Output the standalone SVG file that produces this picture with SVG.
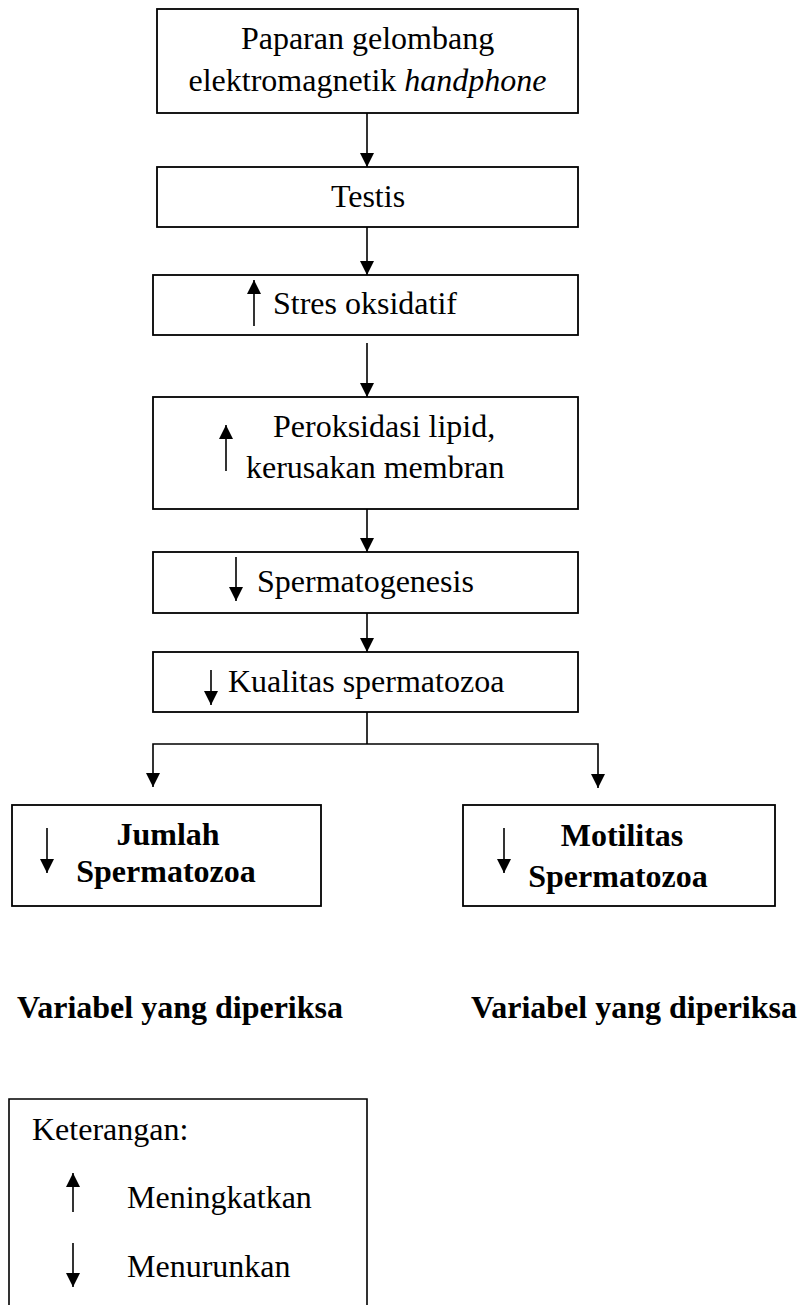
<svg xmlns="http://www.w3.org/2000/svg" width="803" height="1305" viewBox="0 0 803 1305">
<style>
.box{fill:#fff;stroke:#000;stroke-width:1.8}
.ln{fill:none;stroke:#000;stroke-width:1.6}
.t{font-family:"Liberation Serif","Times New Roman",serif;font-size:32px;fill:#000}
.b{font-weight:bold}
.c{text-anchor:middle}
</style>
<defs>
<marker id="ah" markerUnits="userSpaceOnUse" markerWidth="15" markerHeight="15" refX="14" refY="7" orient="auto">
<path d="M0,0 L14,7 L0,14 z" fill="#000"/>
</marker>
</defs>
<rect width="803" height="1305" fill="#fff"/>
<g id="connectors">
<line class="ln" x1="367" y1="113" x2="367" y2="167" marker-end="url(#ah)"/>
<line class="ln" x1="367" y1="227" x2="367" y2="275" marker-end="url(#ah)"/>
<line class="ln" x1="367" y1="343" x2="367" y2="397" marker-end="url(#ah)"/>
<line class="ln" x1="367" y1="509" x2="367" y2="552" marker-end="url(#ah)"/>
<line class="ln" x1="367" y1="613" x2="367" y2="652" marker-end="url(#ah)"/>
<polyline class="ln" points="367,712 367,744"/>
<polyline class="ln" points="367,744 153,744 153,787" marker-end="url(#ah)"/>
<polyline class="ln" points="367,744 598,744 598,788" marker-end="url(#ah)"/>
</g>
<g id="n1">
<rect class="box" x="157" y="9" width="421" height="104"/>
<text class="t c" x="367.5" y="49">Paparan gelombang</text>
<text class="t c" x="367.5" y="91">elektromagnetik <tspan font-style="italic">handphone</tspan></text>
</g>
<g id="n2">
<rect class="box" x="157" y="167" width="421" height="60"/>
<text class="t c" x="368" y="207">Testis</text>
</g>
<g id="n3">
<rect class="box" x="153" y="275" width="425" height="60"/>
<line class="ln" x1="254" y1="326" x2="254" y2="280" marker-end="url(#ah)"/>
<text class="t" x="273" y="314">Stres oksidatif</text>
</g>
<g id="n4">
<rect class="box" x="153" y="397" width="425" height="112"/>
<line class="ln" x1="226" y1="471" x2="226" y2="425" marker-end="url(#ah)"/>
<text class="t" x="273" y="437">Peroksidasi lipid,</text>
<text class="t" x="246" y="478">kerusakan membran</text>
</g>
<g id="n5">
<rect class="box" x="153" y="552" width="425" height="61"/>
<line class="ln" x1="236" y1="557" x2="236" y2="601" marker-end="url(#ah)"/>
<text class="t" x="257" y="592">Spermatogenesis</text>
</g>
<g id="n6">
<rect class="box" x="153" y="652" width="425" height="60"/>
<line class="ln" x1="211" y1="670" x2="211" y2="705" marker-end="url(#ah)"/>
<text class="t" x="228" y="692">Kualitas spermatozoa</text>
</g>
<g id="n7">
<rect class="box" x="12" y="805" width="309" height="101"/>
<line class="ln" x1="47" y1="828" x2="47" y2="873" marker-end="url(#ah)"/>
<text class="t b c" x="168" y="845">Jumlah</text>
<text class="t b c" x="166" y="882">Spermatozoa</text>
</g>
<g id="n8">
<rect class="box" x="463" y="805" width="312" height="101"/>
<line class="ln" x1="504" y1="828" x2="504" y2="873" marker-end="url(#ah)"/>
<text class="t b c" x="622" y="846">Motilitas</text>
<text class="t b c" x="618" y="887">Spermatozoa</text>
</g>
<g id="labels">
<text class="t b" x="17" y="1018">Variabel yang diperiksa</text>
<text class="t b" x="471" y="1018">Variabel yang diperiksa</text>
</g>
<g id="legend">
<polyline class="ln" points="9,1310 9,1099 367,1099 367,1310" stroke-width="1.8"/>
<text class="t" x="32" y="1140">Keterangan:</text>
<line class="ln" x1="73" y1="1212" x2="73" y2="1173" marker-end="url(#ah)"/>
<text class="t" x="127" y="1208">Meningkatkan</text>
<line class="ln" x1="73" y1="1243" x2="73" y2="1287" marker-end="url(#ah)"/>
<text class="t" x="127" y="1277">Menurunkan</text>
</g>
</svg>
